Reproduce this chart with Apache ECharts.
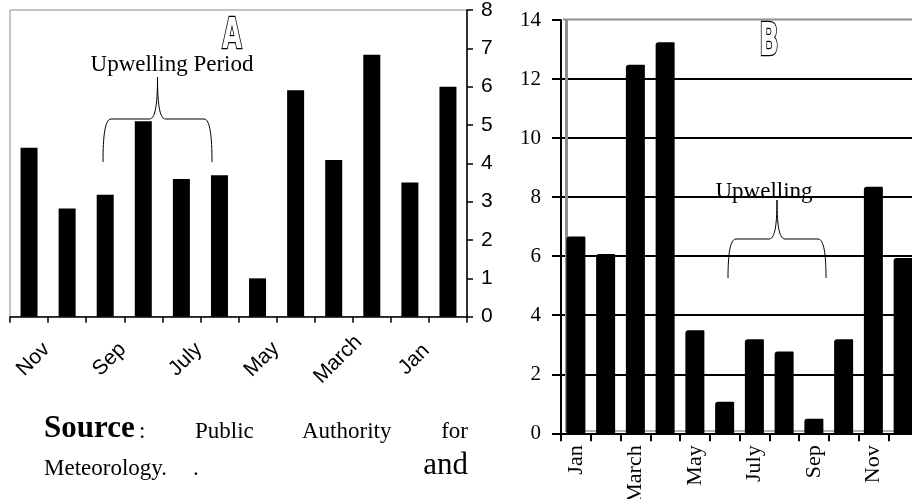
<!DOCTYPE html>
<html><head><meta charset="utf-8">
<script src="https://cdn.jsdelivr.net/npm/echarts@6/dist/echarts.min.js"></script>
<style>html,body{margin:0;padding:0;background:#fff}#c{width:912px;height:499px}</style>
</head><body><div id="c"></div>
<script>
// Panel A (right y-axis, months in reverse order)
const monthsA = ['Nov','Oct','Sep','Aug','July','Jun','May','Apr','March','Feb','Jan','Dec'];
const valuesA = [4.41,2.82,3.18,5.10,3.59,3.69,1.00,5.91,4.09,6.83,3.50,6.00];
const axisA = {min:0, max:8, step:1};
// Panel B
const monthsB = ['Jan','Feb','March','Apr','May','Jun','July','Aug','Sep','Oct','Nov','Dec'];
const valuesB = [6.67,6.07,12.48,13.25,3.49,1.07,3.19,2.77,0.49,3.19,8.35,5.94];
const axisB = {min:0, max:14, step:2};

const chart = echarts.init(document.getElementById('c'), null, {renderer:'canvas'});
const sans = 'Liberation Sans';
const serif = 'Liberation Serif';

// curly brace annotation built from bezier curves and lines
function brace(x0, x1, yBot, yMid, yTop) {
  const xm = (x0 + x1) / 2, r = 8;
  const st = {fill:'none', stroke:'#000', lineWidth:1};
  const h = yBot - yMid, u = yMid - yTop;
  return [
    {type:'bezierCurve', z:10, shape:{x1:x0, y1:yBot, x2:x0+r, y2:yMid, cpx1:x0, cpy1:yMid+h*0.4, cpx2:x0+2, cpy2:yMid}, style:st},
    {type:'line', z:10, shape:{x1:x0+r, y1:yMid, x2:xm-r, y2:yMid}, style:st},
    {type:'bezierCurve', z:10, shape:{x1:xm-r, y1:yMid, x2:xm, y2:yTop, cpx1:xm-3, cpy1:yMid, cpx2:xm, cpy2:yMid-u*0.25}, style:st},
    {type:'bezierCurve', z:10, shape:{x1:xm, y1:yTop, x2:xm+r, y2:yMid, cpx1:xm, cpy1:yMid-u*0.25, cpx2:xm+3, cpy2:yMid}, style:st},
    {type:'line', z:10, shape:{x1:xm+r, y1:yMid, x2:x1-r, y2:yMid}, style:st},
    {type:'bezierCurve', z:10, shape:{x1:x1-r, y1:yMid, x2:x1, y2:yBot, cpx1:x1-2, cpy1:yMid, cpx2:x1, cpy2:yMid+h*0.4}, style:st}
  ];
}
function txt(text, x, y, font, align) {
  return {type:'text', z:10, style:{text:text, x:x, y:y, textAlign:align||'left', textVerticalAlign:'middle', font:font, fill:'#000'}};
}

chart.setOption({
  animation:false,
  backgroundColor:'#fff',
  grid:[
    {left:10, top:10, width:457, height:306.7, outerBoundsMode:'none', containLabel:false,
     show:true, borderColor:'#8a8a8a', borderWidth:1, backgroundColor:'transparent'},
    {left:561, top:20, right:-6, bottom:65.7, outerBoundsMode:'none', containLabel:false, show:false}
  ],
  xAxis:[
    {type:'category', gridIndex:0, data:monthsA,
     axisLine:{lineStyle:{color:'#000', width:1.5}},
     axisTick:{show:true, interval:0, length:6, lineStyle:{color:'#000', width:1.5}},
     axisLabel:{interval:1, rotate:45, align:'center', verticalAlign:'middle', margin:47,
                padding:[12,0,0,12], fontFamily:sans, fontSize:21, color:'#000'},
     splitLine:{show:false}},
    {type:'category', gridIndex:1, data:monthsB,
     axisLine:{lineStyle:{color:'#000', width:2}},
     axisTick:{show:true, interval:0, length:8, lineStyle:{color:'#000', width:2}},
     axisLabel:{interval:1, rotate:90, margin:12, padding:[0,0,8,0], fontFamily:serif, fontSize:22, color:'#000'},
     splitLine:{show:false}}
  ],
  yAxis:[
    {type:'value', gridIndex:0, position:'right', min:axisA.min, max:axisA.max, interval:axisA.step,
     axisLine:{show:true, lineStyle:{color:'#000', width:1.5}},
     axisTick:{show:true, length:6, lineStyle:{color:'#000', width:1.5}},
     axisLabel:{margin:14, fontFamily:sans, fontSize:21, color:'#000'},
     splitLine:{show:false}},
    {type:'value', gridIndex:1, position:'left', min:axisB.min, max:axisB.max, interval:axisB.step,
     axisLine:{show:true, lineStyle:{color:'#000', width:2}},
     axisTick:{show:true, length:9, lineStyle:{color:'#000', width:2}},
     axisLabel:{margin:20, fontFamily:serif, fontSize:21, color:'#000'},
     splitLine:{show:true, showMinLine:false, showMaxLine:false, lineStyle:{color:'#000', width:2}}}
  ],
  series:[
    {type:'bar', xAxisIndex:0, yAxisIndex:0, data:valuesA, barWidth:17,
     itemStyle:{color:'#000'}, z:3},
    {type:'bar', xAxisIndex:1, yAxisIndex:1, data:valuesB, barWidth:19,
     itemStyle:{color:'#000', borderRadius:[3,1,0,0]}, z:3}
  ],
  graphic:[
    {type:'line', z:1, shape:{x1:566.5, y1:20, x2:566.5, y2:432}, style:{stroke:'#8f8f8f', lineWidth:3}},
    {type:'line', z:1, shape:{x1:563, y1:19.5, x2:912, y2:19.5}, style:{stroke:'#8f8f8f', lineWidth:2}},
    {type:'line', z:1, shape:{x1:566, y1:431, x2:912, y2:431}, style:{stroke:'#9a9a9a', lineWidth:1.5}},
    {type:'text', x:232, y:37, scaleX:0.6, z:10,
     style:{text:'A', x:0, y:0, textAlign:'center', textVerticalAlign:'middle',
            font:'bold 42px "DejaVu Sans"', fill:'#fff', stroke:'#000', lineWidth:2.5}},
    {type:'text', x:769, y:44, scaleX:0.58, z:10,
     style:{text:'B', x:0, y:0, textAlign:'center', textVerticalAlign:'middle',
            font:'bold 44px "DejaVu Sans"', fill:'#fff', stroke:'#000', lineWidth:2.5}},
    txt('Upwelling Period', 172, 65, '23px "Liberation Serif"', 'center'),
    ...brace(103, 212, 162, 119, 77),
    txt('Upwelling', 764, 192, '23px "Liberation Serif"', 'center'),
    ...brace(728, 826, 278, 239, 200),
    txt('Source', 44, 429, 'bold 31px "Liberation Serif"'),
    txt(':', 139, 432, '23px "Liberation Serif"'),
    txt('Public', 195, 432, '23px "Liberation Serif"'),
    txt('Authority', 302, 432, '23px "Liberation Serif"'),
    txt('for', 468, 432, '23px "Liberation Serif"', 'right'),
    txt('Meteorology.', 44, 469, '23px "Liberation Serif"'),
    txt('.', 193, 469, '23px "Liberation Serif"'),
    txt('and', 468, 466, '31px "Liberation Serif"', 'right')
  ]
});
</script>
</body></html>
